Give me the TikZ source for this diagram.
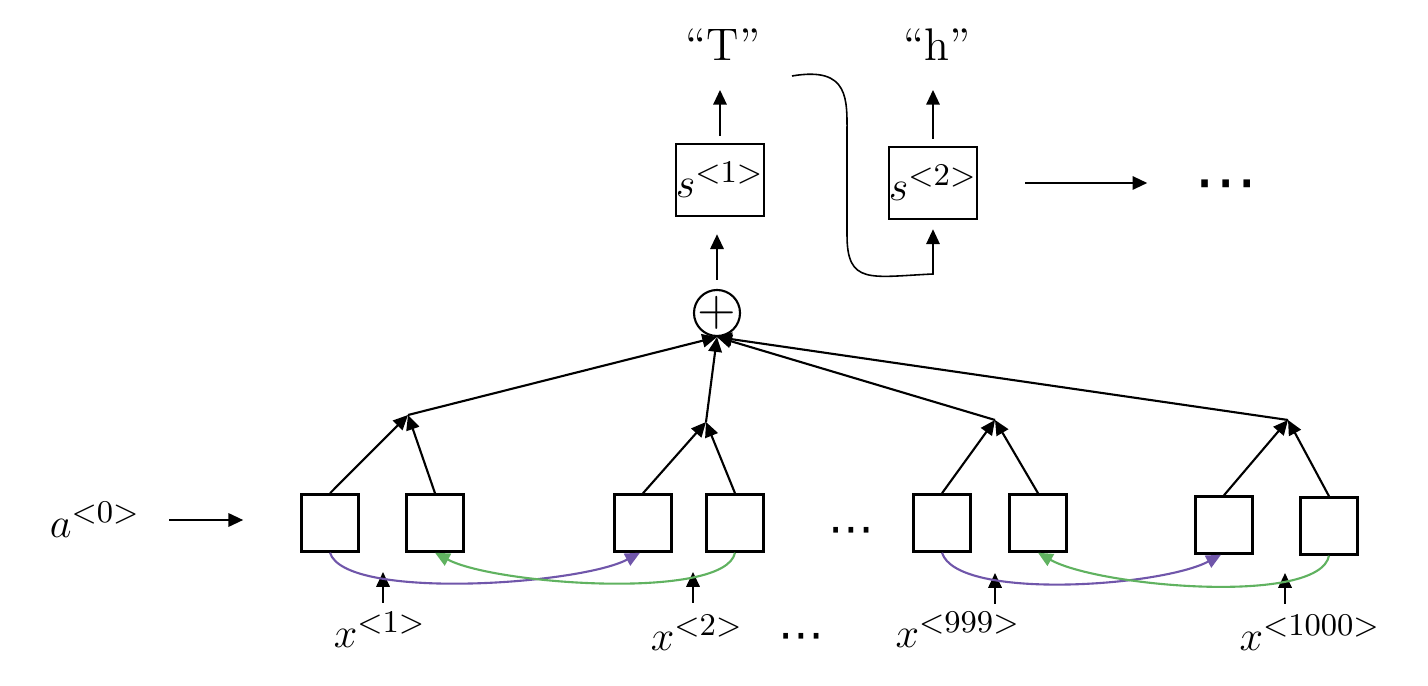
\documentclass[tikz,border=0pt]{standalone}
\usepackage{amsmath}
\usepackage{amssymb}
\usepackage{fontspec}
\newfontfamily\dotsfont{DejaVu Sans}
\usetikzlibrary{arrows.meta,positioning}
\definecolor{attpurple}{RGB}{112,86,170}
\definecolor{attgreen}{RGB}{96,178,96}
\tikzset{
  cell/.style={draw,line width=0.7pt,minimum size=0.57cm,inner sep=0pt},
  sbox/.style={draw,line width=0.7pt,minimum width=0.84cm,minimum height=0.72cm,inner sep=0pt},
  lbl/.style={inner sep=0pt},
}
\begin{document}
\begin{tikzpicture}[x=0.01cm,y=-0.01cm,font=\fontsize{13}{16}\selectfont,
    line width=0.6pt,>={Triangle[length=4.2pt,width=3.8pt]}]
      \useasboundingbox (0,0) rectangle (1428,686);
      %% Bottom row of cells
      \node[cell] (1) at (330,523) {};
      \node[cell] (2) at (435,523) {};
      \node[cell] (3) at (643,523) {};
      \node[cell] (4) at (735,523) {};
      \node[cell] (5) at (942,523) {};
      \node[cell] (6) at (1038,523) {};
      \node[cell] (7) at (1224,525) {};
      \node[cell] (8) at (1329,526) {};
      \node[lbl] (d1) at (851,536) {\dotsfont ⋯};
      %% Inputs
      \node[lbl] (a0) at (95,520) {$a^{<0>}$};
      \draw[->,shorten <=0.28cm,shorten >=0.57cm] (a0) -- (a0 -| 1.west);
      \node[lbl] (x1) at (380,630) {$x^{<1>}$};
      \node[lbl] (x2) at (697,633) {$x^{<2>}$};
      \node[lbl] (x3) at (958,630) {$x^{<999>}$};
      \node[lbl] (x4) at (1310,633) {$x^{<1000>}$};
      \node[lbl] (d2) at (801,642) {\dotsfont ⋯};
      \coordinate (i1) at (383,603);
      \coordinate (i2) at (693,603);
      \coordinate (i3) at (995,604);
      \coordinate (i4) at (1285,604);
      \draw[->] (i1) -- ++(0,-31);
      \draw[->] (i2) -- ++(0,-31);
      \draw[->] (i3) -- ++(0,-31);
      \draw[->] (i4) -- ++(0,-31);
      %% Forward and backward links
      \draw[->,attpurple] (1.south) .. controls +(15,48) and +(-60,32) .. ([xshift=-0.03cm]3.south);
      \draw[->,attgreen] (4.south) .. controls +(-10,48) and +(60,32) .. (2.south);
      \draw[->,attpurple] (5.south) .. controls +(15,48) and +(-60,32) .. ([xshift=-0.03cm]7.south);
      \draw[->,attgreen] (8.south) .. controls +(-10,50) and +(60,34) .. (6.south);
      %% Pairs to the sum
      \coordinate (j1) at (408,415);
      \coordinate (j2) at (706,422);
      \coordinate (j3) at (995,420);
      \coordinate (j4) at (1288,420);
      \draw[->] (1.north) -- (j1);
      \draw[->] (2.north) -- (j1);
      \draw[->] (3.north) -- (j2);
      \draw[->] (4.north) -- (j2);
      \draw[->] (5.north) -- (j3);
      \draw[->] (6.north) -- (j3);
      \draw[->] (7.north) -- (j4);
      \draw[->] (8.north) -- (j4);
      \node[circle,draw,minimum size=0.46cm,inner sep=-1.2pt,font=\fontsize{15}{18}\selectfont] (plus) at (717,313) {$+$};
      \draw[->] (j1) -- (plus.south);
      \draw[->] (j2) -- (plus.south);
      \draw[->] (j3) -- (plus.south);
      \draw[->] (j4) -- (plus.south);
      %% Decoder
      \node[sbox] (s1) at (720,180) {$s^{<1>}$};
      \node[sbox] (s2) at (933,183) {$s^{<2>}$};
      \node[lbl] (T) at (723,45) {``T''};
      \node[lbl] (h) at (937,45) {``h''};
      \node[lbl,font=\fontsize{18}{22}\selectfont] (d3) at (1226,192) {\dotsfont ⋯};
      \draw[->,shorten <=0.09cm,shorten >=0.17cm] (plus) -- (plus |- s1.south);
      \draw[->,shorten <=0.07cm,shorten >=0.28cm] (s1.north) -- (s1.north |- T.south);
      \draw[->,shorten <=0.07cm,shorten >=0.28cm] (s2.north) -- (s2.north |- h.south);
      \draw[->,shorten <=0.47cm,shorten >=0.46cm] (s2) -- (s2 -| d3.west);
      \coordinate (c0) at (792,76);
      \draw[->,line width=0.45pt,shorten >=0.09cm] (c0) .. controls (850,66) and (847,100) .. (847,135)
        -- (847,235) .. controls (847,285) and (870,277) .. (933,274) -- (s2.south);
    \end{tikzpicture}
\end{document}
